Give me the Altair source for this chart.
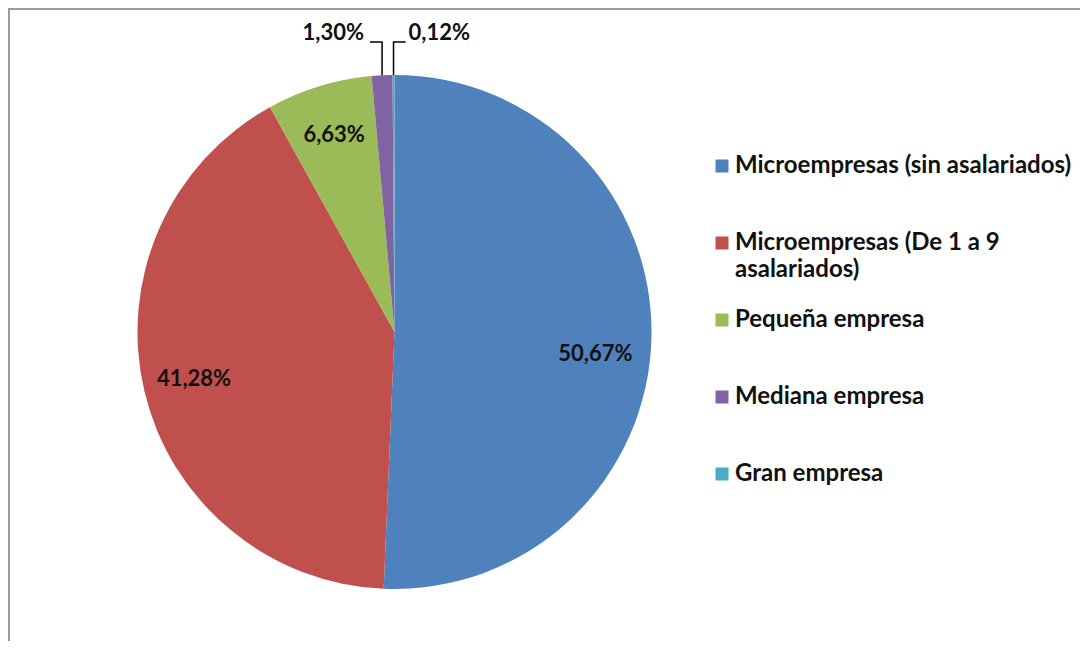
import altair as alt
import pandas as pd
import numpy as np

# ---- data ----
categorias = [
    "Microempresas (sin asalariados)",
    "Microempresas (De 1 a 9 asalariados)",
    "Pequeña empresa",
    "Mediana empresa",
    "Gran empresa",
]
porcentajes = [50.67, 41.28, 6.63, 1.30, 0.12]
etiquetas = ["50,67%", "41,28%", "6,63%", "1,30%", "0,12%"]
colores = ["#4F81BD", "#C0504D", "#9BBB59", "#8064A2", "#4BACC6"]
etiqueta_fuera = [False, False, False, True, True]   # label outside with leader line
lado_fuera = [0, 0, 0, -1, 1]                          # side of the leader arm

# ---- layout / style ----
W, H = 1072, 633
CX, CY, R = 386.5, 324.0, 257.0
FONT = "Lato"
TXT = "#111111"
LBL = 22          # data label font size
LEG = 24          # legend font size
ELBOW = 1.128     # leader elbow height (in pie radii)
ARM = 0.047       # leader horizontal arm length (in pie radii)

df = pd.DataFrame({
    "categoria": categorias,
    "valor": porcentajes,
    "etiqueta": etiquetas,
    "orden": list(range(len(categorias))),
})
df["etiqueta_in"] = [e if not f else "" for e, f in zip(etiquetas, etiqueta_fuera)]

# leader lines computed from the shares
frac = np.array(porcentajes) / sum(porcentajes)
mid = np.cumsum(frac) - frac / 2
ang = 2 * np.pi * mid
lead_rows, out_rows = [], []
for i, (f, s) in enumerate(zip(etiqueta_fuera, lado_fuera)):
    if not f:
        continue
    xe, ye = np.sin(ang[i]), np.cos(ang[i])
    xa = xe + s * ARM
    lead_rows += [
        {"cat": categorias[i], "k": 0, "x": xe, "y": ye},
        {"cat": categorias[i], "k": 1, "x": xe, "y": ELBOW},
        {"cat": categorias[i], "k": 2, "x": xa, "y": ELBOW},
    ]
    out_rows.append({"cat": categorias[i], "x": xa, "y": ELBOW,
                     "texto": etiquetas[i], "lado": s})
lead = pd.DataFrame(lead_rows)
outl = pd.DataFrame(out_rows)

xs = alt.Scale(domain=[(0 - CX) / R, (W - CX) / R], nice=False, zero=False)
ys = alt.Scale(domain=[(CY - H) / R, CY / R], nice=False, zero=False)

# every legend label is given two lines so that all rows have equal height
label_expr = ("datum.label == 'Microempresas (De 1 a 9 asalariados)' ? "
              "['Microempresas (De 1 a 9', 'asalariados)'] : [datum.label, '']")

pie = alt.Chart(df).mark_arc(outerRadius=R).encode(
    theta=alt.Theta("valor:Q", stack=True),
    color=alt.Color(
        "categoria:N",
        scale=alt.Scale(domain=categorias, range=colores),
        sort=categorias,
        legend=alt.Legend(
            orient="none", legendX=702, legendY=146, title=None,
            symbolType="square", symbolSize=169, symbolStrokeWidth=0,
            labelFont=FONT, labelFontSize=LEG, labelFontWeight="bold",
            labelColor=TXT, labelOffset=1, rowPadding=26, labelLimit=600,
            padding=0, labelExpr=label_expr,
        ),
    ),
    order=alt.Order("orden:Q"),
    x=alt.value(CX),
    y=alt.value(CY),
)

inside_main = alt.Chart(df).mark_text(
    radius=206, font=FONT, fontSize=LBL, fontWeight="bold", color=TXT,
    align="center", baseline="middle",
).encode(
    theta=alt.Theta("valor:Q", stack=True),
    order=alt.Order("orden:Q"),
    text=alt.condition("datum.orden == 0", alt.value(""), "etiqueta_in:N"),
    x=alt.value(CX),
    y=alt.value(CY),
)
inside_first = alt.Chart(df).mark_text(
    radius=206, font=FONT, fontSize=LBL, fontWeight="bold", color=TXT,
    align="center", baseline="middle", dx=-5, dy=18,
).encode(
    theta=alt.Theta("valor:Q", stack=True),
    order=alt.Order("orden:Q"),
    text=alt.condition("datum.orden == 0", "etiqueta_in:N", alt.value("")),
    x=alt.value(CX),
    y=alt.value(CY),
)

leaders = alt.Chart(lead).mark_line(color="#000000", strokeWidth=1.5).encode(
    x=alt.X("x:Q", scale=xs, axis=None),
    y=alt.Y("y:Q", scale=ys, axis=None),
    detail="cat:N",
    order="k:Q",
)

out_left = alt.Chart(outl).transform_filter("datum.lado < 0").mark_text(
    font=FONT, fontSize=LBL, fontWeight="bold", color=TXT,
    align="right", baseline="middle", dx=-6, dy=-9,
).encode(
    x=alt.X("x:Q", scale=xs, axis=None),
    y=alt.Y("y:Q", scale=ys, axis=None),
    text="texto:N",
)
out_right = alt.Chart(outl).transform_filter("datum.lado > 0").mark_text(
    font=FONT, fontSize=LBL, fontWeight="bold", color=TXT,
    align="left", baseline="middle", dx=3, dy=-9,
).encode(
    x=alt.X("x:Q", scale=xs, axis=None),
    y=alt.Y("y:Q", scale=ys, axis=None),
    text="texto:N",
)

border_top = alt.Chart(df).mark_rule(color="#9a9a9a", strokeWidth=1.5).encode(
    x=alt.value(0), x2=alt.value(W), y=alt.value(0.75)
)
border_left = alt.Chart(df).mark_rule(color="#9a9a9a", strokeWidth=1.5).encode(
    x=alt.value(0.75), y=alt.value(0), y2=alt.value(H)
)

chart = alt.layer(
    pie, inside_main, inside_first, leaders, out_left, out_right,
    border_top, border_left
).properties(
    width=W, height=H, padding=0,
    autosize=alt.AutoSizeParams(type="none"),
    background="white",
).configure(
    style={"guide-label": {"lineHeight": 27}}
).configure_view(stroke=None)

chart.save("out.html", embed_options={"renderer": "svg", "actions": False})
